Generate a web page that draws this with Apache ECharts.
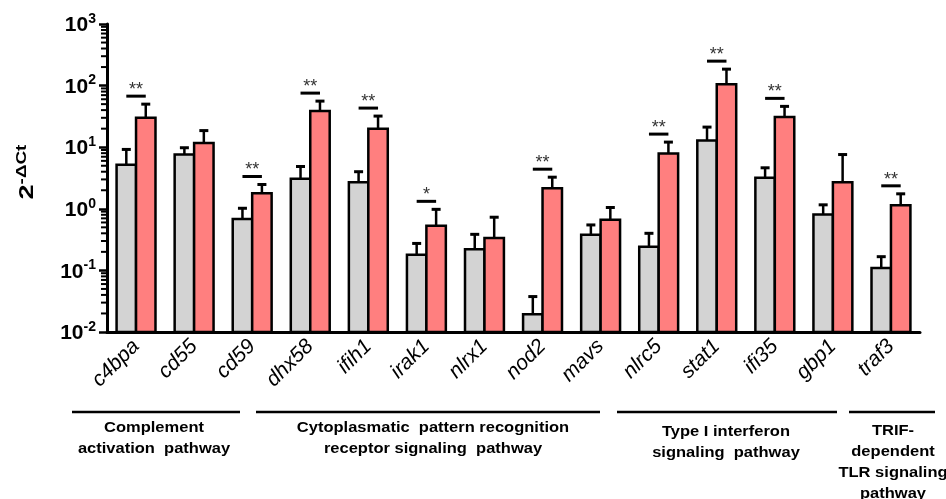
<!DOCTYPE html>
<html><head><meta charset="utf-8">
<script src="https://cdn.jsdelivr.net/npm/echarts@6/dist/echarts.min.js"></script>
<style>html,body{margin:0;padding:0;background:#fff}#c{width:946px;height:499px}</style>
</head><body><div id="c"></div>
<script>
const categories = ['c4bpa','cd55','cd59','dhx58','ifih1','irak1','nlrx1','nod2','mavs','nlrc5','stat1','ifi35','gbp1','traf3'];
const controlMean    = [5.2, 7.6, 0.68, 3.07, 2.7, 0.18, 0.22, 0.0194, 0.38, 0.242, 12.9, 3.18, 0.805, 0.109];
const controlErrTop  = [9.2, 9.8, 1.02, 4.86, 4.0, 0.274, 0.385, 0.0376, 0.547, 0.40, 21.2, 4.63, 1.16, 0.167];
const treatedMean    = [30, 11.7, 1.79, 38.7, 20, 0.53, 0.336, 2.16, 0.667, 7.9, 105, 30.9, 2.7, 1.14];
const treatedErrTop  = [50, 18.6, 2.48, 56, 32, 0.98, 0.73, 3.26, 1.05, 12.1, 185, 46, 7.6, 1.75];
const significance   = ['**','','**','**','**','*','','**','','**','**','**','','**'];
const yMin = 0.01, yMax = 1000;
const groups = [
  {lines:['Complement','activation  pathway'], x1:72, x2:240, cx:154, y:428},
  {lines:['Cytoplasmatic  pattern recognition','receptor signaling  pathway'], x1:256, x2:600, cx:433, y:428},
  {lines:['Type I interferon','signaling  pathway'], x1:617, x2:837, cx:726, y:432},
  {lines:['TRIF-','dependent','TLR signaling','pathway'], x1:849, x2:935, cx:893, y:431}
];

const FONT = '"Liberation Sans", Arial, Helvetica, sans-serif';
const GRAY = '#d3d3d3', RED = '#ff7f7f';
const GRID_LEFT = 107;

function barRenderer(side, fill) {
  return function (params, api) {
    const i = api.value(0), v = api.value(1), e = api.value(2);
    const band = api.size([1, 1], [i, 1])[0];
    const w = band * 0.335;
    const base = api.coord([i, yMin]);
    const top = api.coord([i, v]);
    const et = api.coord([i, e]);
    const x0 = side < 0 ? top[0] - w : top[0];
    const cx = x0 + w / 2;
    return {type: 'group', children: [
      {type: 'line', shape: {x1: cx, y1: top[1], x2: cx, y2: et[1]}, style: {stroke: '#000', lineWidth: 2.5}},
      {type: 'line', shape: {x1: cx - 4.5, y1: et[1], x2: cx + 4.5, y2: et[1]}, style: {stroke: '#000', lineWidth: 3}},
      {type: 'rect', shape: {x: x0, y: top[1], width: w, height: base[1] - top[1]}, style: {fill: fill, stroke: '#000', lineWidth: 2.5}}
    ]};
  };
}

function sigRenderer(params, api) {
  const i = api.value(0), e = api.value(1);
  const band = api.size([1, 1], [i, 1])[0];
  const w = band * 0.335;
  const c = api.coord([i, e]);
  const y = c[1] - 8;
  const xa = c[0] - w / 2, xb = c[0] + w / 2;
  return {type: 'group', children: [
    {type: 'line', shape: {x1: xa, y1: y, x2: xb, y2: y}, style: {stroke: '#000', lineWidth: 3}},
    {type: 'text', x: c[0], y: y + 3, style: {text: significance[i], font: '18px ' + FONT, fill: '#333', align: 'center', verticalAlign: 'bottom'}}
  ]};
}

// minor ticks of the log axis (2..9 × 10^k), positioned through the axis scale
function minorRenderer(params, api) {
  const band = api.size([1, 1], [0, 1])[0];
  const c = api.coord([0, api.value(1)]);
  const ax = c[0] - band / 2;
  return {type: 'line', shape: {x1: ax - 6, y1: c[1], x2: ax + 1, y2: c[1]}, style: {stroke: '#000', lineWidth: 2}, z2: 100};
}
const minorTickValues = [];
for (let k = -2; k < 3; k++) for (let m = 2; m < 10; m++) minorTickValues.push([0, +(m * Math.pow(10, k)).toPrecision(3)]);

const graphics = [
  {type: 'text', x: 26, y: 172, rotation: Math.PI / 2, scaleX: 1.35, style: {
    text: '{b|2}{s|-ΔCt}', align: 'center', verticalAlign: 'middle',
    rich: {b: {font: 'bold 20px ' + FONT, fill: '#000', lineHeight: 22, verticalAlign: 'bottom'},
           s: {font: 'bold 14px ' + FONT, fill: '#000', lineHeight: 14, verticalAlign: 'top'}}}}
];
groups.forEach(g => {
  graphics.push({type: 'line', shape: {x1: g.x1, y1: 412, x2: g.x2, y2: 412}, style: {stroke: '#000', lineWidth: 2.5}});
  g.lines.forEach((t, k) => graphics.push({type: 'text', x: g.cx, y: g.y + k * 21, scaleX: 1.1, style: {
    text: t, font: 'bold 15px ' + FONT, fill: '#000', align: 'center', verticalAlign: 'middle'}}));
});

const chart = echarts.init(document.getElementById('c'));
chart.setOption({
  animation: false,
  backgroundColor: '#fff',
  grid: {left: GRID_LEFT, right: 26, top: 24, bottom: 167, containLabel: false, outerBoundsMode: 'none'},
  xAxis: {
    type: 'category', data: categories,
    axisLine: {lineStyle: {color: '#000', width: 3}},
    axisTick: {alignWithLabel: true, length: 8, lineStyle: {color: '#000', width: 2.5}},
    axisLabel: {rotate: 45, interval: 0, margin: 11, fontStyle: 'italic', fontSize: 21, fontFamily: FONT, color: '#000'}
  },
  yAxis: {
    type: 'log', logBase: 10, min: yMin, max: yMax, interval: 1,
    axisLine: {show: true, lineStyle: {color: '#000', width: 3}},
    axisTick: {show: true, length: 8, lineStyle: {color: '#000', width: 2.5}},
    splitLine: {show: false},
    axisLabel: {
      margin: 11,
      formatter: v => '{b|10}{s|' + Math.round(Math.log10(v)) + '}',
      rich: {
        b: {fontSize: 21, fontWeight: 'bold', fontFamily: FONT, color: '#000', lineHeight: 24, verticalAlign: 'bottom'},
        s: {fontSize: 14, fontWeight: 'bold', fontFamily: FONT, color: '#000', lineHeight: 14, verticalAlign: 'top'}
      }
    }
  },
  graphic: graphics,
  series: [
    {type: 'custom', renderItem: barRenderer(-1, GRAY), data: categories.map((c, i) => [i, controlMean[i], controlErrTop[i]]), encode: {x: 0, y: [1, 2]}},
    {type: 'custom', renderItem: barRenderer(1, RED), data: categories.map((c, i) => [i, treatedMean[i], treatedErrTop[i]]), encode: {x: 0, y: [1, 2]}},
    {type: 'custom', renderItem: sigRenderer, data: categories.map((c, i) => [i, treatedErrTop[i]]).filter(d => significance[d[0]]), encode: {x: 0, y: 1}},
    {type: 'custom', renderItem: minorRenderer, data: minorTickValues, encode: {x: 0, y: 1}, clip: false, z: 10, silent: true}
  ]
});
</script></body></html>
